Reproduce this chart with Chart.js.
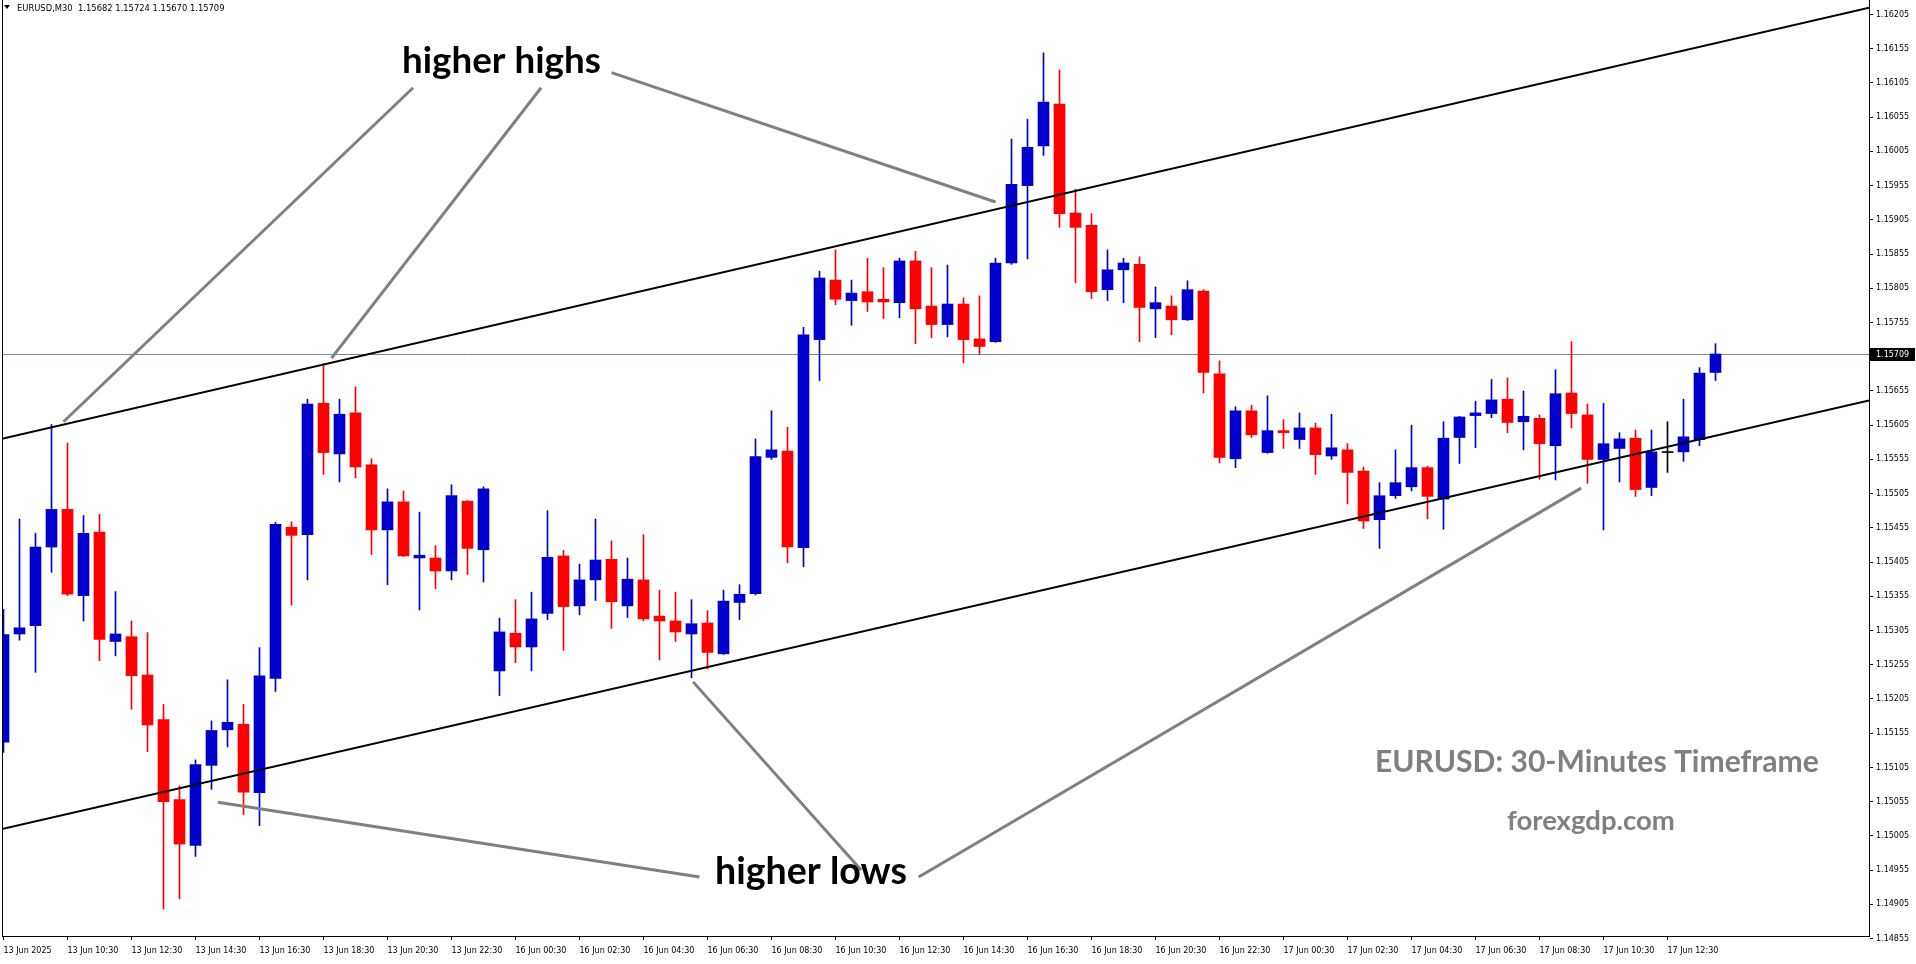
<!DOCTYPE html>
<html>
<head>
<meta charset="utf-8">
<title>EURUSD M30</title>
<script src="https://cdn.jsdelivr.net/npm/chart.js@4.4.1/dist/chart.umd.min.js"></script>
<style>
  html, body { margin: 0; padding: 0; background: #fff; }
  canvas { display: block; }
</style>
</head>
<body>
<canvas id="chart" width="1916" height="964"></canvas>
<script>
// EURUSD M30 bars, 13 Jun 08:30 -> 17 Jun 14:00 (one value per bar)
const opens = [
  1.15142, 1.15300, 1.15312, 1.15427, 1.15482, 1.15356, 1.15449, 1.15289, 1.15296, 1.15240,
  1.15175, 1.15058, 1.14991, 1.15108, 1.15160, 1.15168, 1.15068, 1.15235, 1.15456, 1.15445,
  1.15637, 1.15563, 1.15623, 1.15547, 1.15452, 1.15493, 1.15411, 1.15411, 1.15392, 1.15494,
  1.15423, 1.15246, 1.15301, 1.15281, 1.15330, 1.15414, 1.15341, 1.15379, 1.15409, 1.15341,
  1.15379, 1.15326, 1.15319, 1.15300, 1.15316, 1.15271, 1.15346, 1.15359, 1.15558, 1.15567,
  1.15426, 1.15730, 1.15817, 1.15787, 1.15800, 1.15789, 1.15784, 1.15845, 1.15779, 1.15752,
  1.15782, 1.15731, 1.15727, 1.15842, 1.15955, 1.16013, 1.16074, 1.15915, 1.15897, 1.15803,
  1.15832, 1.15840, 1.15775, 1.15779, 1.15759, 1.15801, 1.15680, 1.15556, 1.15626, 1.15565,
  1.15597, 1.15584, 1.15601, 1.15560, 1.15569, 1.15538, 1.15467, 1.15502, 1.15515, 1.15543,
  1.15497, 1.15587, 1.15619, 1.15622, 1.15643, 1.15610, 1.15615, 1.15575, 1.15652, 1.15620,
  1.15555, 1.15571, 1.15586, 1.15514, 1.15565, 1.15566, 1.15584, 1.15682
];
const highs = [
  1.15336, 1.15468, 1.15447, 1.15606, 1.15579, 1.15473, 1.15475, 1.15362, 1.15319, 1.15302,
  1.15197, 1.15078, 1.15116, 1.15173, 1.15233, 1.15197, 1.15280, 1.15463, 1.15464, 1.15643,
  1.15695, 1.15643, 1.15661, 1.15556, 1.15512, 1.15509, 1.15478, 1.15429, 1.15518, 1.15495,
  1.15515, 1.15323, 1.15350, 1.15361, 1.15480, 1.15422, 1.15402, 1.15468, 1.15436, 1.15411,
  1.15445, 1.15364, 1.15361, 1.15350, 1.15334, 1.15364, 1.15372, 1.15585, 1.15626, 1.15602,
  1.15748, 1.15830, 1.15861, 1.15817, 1.15849, 1.15835, 1.15849, 1.15859, 1.15835, 1.15839,
  1.15791, 1.15794, 1.15849, 1.16023, 1.16052, 1.16149, 1.16124, 1.15950, 1.15914, 1.15861,
  1.15849, 1.15851, 1.15807, 1.15794, 1.15816, 1.15803, 1.15699, 1.15632, 1.15634, 1.15648,
  1.15613, 1.15623, 1.15608, 1.15621, 1.15578, 1.15544, 1.15521, 1.15569, 1.15605, 1.15545,
  1.15610, 1.15618, 1.15640, 1.15672, 1.15674, 1.15655, 1.15620, 1.15686, 1.15727, 1.15636,
  1.15637, 1.15594, 1.15598, 1.15598, 1.15610, 1.15643, 1.15689, 1.15724
];
const lows = [
  1.15127, 1.15291, 1.15244, 1.15390, 1.15356, 1.15319, 1.15261, 1.15268, 1.15190, 1.15128,
  1.14898, 1.14913, 1.14975, 1.15073, 1.15135, 1.15036, 1.15020, 1.15216, 1.15342, 1.15379,
  1.15533, 1.15522, 1.15528, 1.15416, 1.15372, 1.15413, 1.15335, 1.15366, 1.15379, 1.15387,
  1.15376, 1.15210, 1.15258, 1.15246, 1.15321, 1.15276, 1.15328, 1.15349, 1.15308, 1.15324,
  1.15319, 1.15262, 1.15289, 1.15236, 1.15249, 1.15270, 1.15321, 1.15357, 1.15555, 1.15404,
  1.15398, 1.15670, 1.15781, 1.15751, 1.15771, 1.15761, 1.15762, 1.15724, 1.15733, 1.15734,
  1.15696, 1.15709, 1.15726, 1.15840, 1.15848, 1.15999, 1.15894, 1.15813, 1.15790, 1.15787,
  1.15784, 1.15727, 1.15733, 1.15737, 1.15758, 1.15652, 1.15550, 1.15543, 1.15587, 1.15564,
  1.15571, 1.15571, 1.15533, 1.15555, 1.15490, 1.15454, 1.15425, 1.15498, 1.15509, 1.15468,
  1.15453, 1.15549, 1.15572, 1.15616, 1.15594, 1.15569, 1.15526, 1.15525, 1.15601, 1.15520,
  1.15452, 1.15522, 1.15501, 1.15502, 1.15536, 1.15552, 1.15575, 1.15670
];
const closes = [
  1.15299, 1.15309, 1.15427, 1.15482, 1.15358, 1.15447, 1.15292, 1.15300, 1.15239, 1.15167,
  1.15055, 1.14993, 1.15109, 1.15159, 1.15171, 1.15069, 1.15239, 1.15460, 1.15444, 1.15636,
  1.15565, 1.15621, 1.15544, 1.15452, 1.15493, 1.15414, 1.15415, 1.15392, 1.15502, 1.15425,
  1.15512, 1.15303, 1.15281, 1.15322, 1.15412, 1.15340, 1.15379, 1.15408, 1.15347, 1.15380,
  1.15322, 1.15319, 1.15303, 1.15315, 1.15273, 1.15348, 1.15358, 1.15559, 1.15569, 1.15427,
  1.15737, 1.15820, 1.15789, 1.15798, 1.15785, 1.15785, 1.15845, 1.15775, 1.15752, 1.15782,
  1.15730, 1.15720, 1.15842, 1.15957, 1.16011, 1.16077, 1.15914, 1.15894, 1.15800, 1.15832,
  1.15842, 1.15777, 1.15784, 1.15759, 1.15803, 1.15682, 1.15558, 1.15626, 1.15591, 1.15597,
  1.15594, 1.15601, 1.15562, 1.15572, 1.15536, 1.15465, 1.15502, 1.15521, 1.15543, 1.15501,
  1.15586, 1.15617, 1.15623, 1.15642, 1.15609, 1.15618, 1.15578, 1.15651, 1.15622, 1.15555,
  1.15578, 1.15585, 1.15511, 1.15566, 1.15565, 1.15588, 1.15681, 1.15709
];

// one label every 4 bars, first one on bar 0
const timeLabels = [
  '13 Jun 2025', '13 Jun 10:30', '13 Jun 12:30', '13 Jun 14:30', '13 Jun 16:30', '13 Jun 18:30',
  '13 Jun 20:30', '13 Jun 22:30', '16 Jun 00:30', '16 Jun 02:30', '16 Jun 04:30', '16 Jun 06:30',
  '16 Jun 08:30', '16 Jun 10:30', '16 Jun 12:30', '16 Jun 14:30', '16 Jun 16:30', '16 Jun 18:30',
  '16 Jun 20:30', '16 Jun 22:30', '17 Jun 00:30', '17 Jun 02:30', '17 Jun 04:30', '17 Jun 06:30',
  '17 Jun 08:30', '17 Jun 10:30', '17 Jun 12:30'
];
const priceTicks = [
  1.14855, 1.14905, 1.14955, 1.15005, 1.15055, 1.15105, 1.15155, 1.15205, 1.15255, 1.15305,
  1.15355, 1.15405, 1.15455, 1.15505, 1.15555, 1.15605, 1.15655, 1.15705, 1.15755, 1.15805,
  1.15855, 1.15905, 1.15955, 1.16005, 1.16055, 1.16105, 1.16155, 1.16205
];
const lastPrice = 1.15709;
const headerText = 'EURUSD,M30  1.15682 1.15724 1.15670 1.15709';

// drawn lines, as [bar index, price] pairs
const channelLines = [
  [[-0.1, 1.15585], [116.6, 1.16215]],
  [[-0.1, 1.15015], [116.6, 1.15641]]
];
const pointerLines = [
  [[25.6, 1.16098], [3.75, 1.15610]],
  [[33.6, 1.16098], [20.5, 1.15703]],
  [[38.0, 1.16120], [62.0, 1.15931]],
  [[13.4, 1.15054], [43.5, 1.14945]],
  [[43.1, 1.15230], [53.6, 1.14955]],
  [[57.2, 1.14945], [98.6, 1.15513]]
];

const bullColor = '#0000CD';
const bearColor = '#FF0000';
const dojiColor = '#000000';
const axisFont = { family: 'DejaVu Sans', size: 8 };

// axis ranges (the reference shows ~16px per bar, ~68450px per 1.0 price)
const xMin = -0.09375, xMax = 116.59375;
const yMin = 1.1485874, yMax = 1.1622471;

const idx = opens.map((_, i) => i);
const candleColor = i => closes[i] > opens[i] ? bullColor : (closes[i] < opens[i] ? bearColor : dojiColor);

function fitText(ctx, text, left, baseline, width, weight, family, color) {
  ctx.font = `${weight} 100px "${family}"`;
  const size = 100 * width / ctx.measureText(text).width;
  ctx.font = `${weight} ${size}px "${family}"`;
  ctx.fillStyle = color;
  ctx.textAlign = 'left';
  ctx.textBaseline = 'alphabetic';
  ctx.fillText(text, left, baseline);
}

const overlay = {
  id: 'overlay',
  beforeDatasetsDraw(chart) {
    const { ctx, chartArea, scales } = chart;
    const y = Math.round(scales.y.getPixelForValue(lastPrice)) + 0.5;
    ctx.save();
    ctx.strokeStyle = '#778899';
    ctx.lineWidth = 1;
    ctx.beginPath();
    ctx.moveTo(chartArea.left, y);
    ctx.lineTo(chartArea.right, y);
    ctx.stroke();
    ctx.restore();
  },
  afterDatasetsDraw(chart) {
    const { ctx, chartArea, scales } = chart;
    const px = p => [scales.x.getPixelForValue(p[0]), scales.y.getPixelForValue(p[1])];
    ctx.save();
    ctx.beginPath();
    ctx.rect(chartArea.left, chartArea.top - 1, chartArea.right - chartArea.left, chartArea.bottom - chartArea.top + 1);
    ctx.clip();
    ctx.lineCap = 'butt';

    ctx.strokeStyle = '#000';
    ctx.lineWidth = 2;
    for (const [a, b] of channelLines) {
      ctx.beginPath();
      ctx.moveTo(...px(a));
      ctx.lineTo(...px(b));
      ctx.stroke();
    }

    ctx.strokeStyle = '#808080';
    ctx.lineWidth = 3;
    for (const [a, b] of pointerLines) {
      ctx.beginPath();
      ctx.moveTo(...px(a));
      ctx.lineTo(...px(b));
      ctx.stroke();
    }

    fitText(ctx, 'higher highs', 402, 73, 199, 'bold', 'Lato', '#000');
    fitText(ctx, 'higher lows', 715, 884, 192, 'bold', 'Lato', '#000');
    fitText(ctx, 'EURUSD: 30-Minutes Timeframe', 1375, 772, 444, 'bold', 'Lato', '#808080');
    fitText(ctx, 'forexgdp.com', 1507, 830, 168, 'bold', 'Lato', '#808080');
    ctx.restore();
  },
  afterDraw(chart) {
    const { ctx, chartArea, scales } = chart;
    ctx.save();
    // left frame
    ctx.fillStyle = '#000';
    ctx.fillRect(chartArea.left, 0, 1, chartArea.bottom);
    ctx.fillRect(chartArea.right, 0, 1, chartArea.top);

    // header
    ctx.beginPath();
    ctx.moveTo(4, 5);
    ctx.lineTo(10, 5);
    ctx.lineTo(7, 9);
    ctx.closePath();
    ctx.fill();
    fitText(ctx, headerText, 17, 11, 208, 'normal', 'DejaVu Sans', '#000');

    // last price tag
    const y = Math.round(scales.y.getPixelForValue(lastPrice));
    ctx.fillStyle = '#000';
    ctx.fillRect(chartArea.right + 1, y - 6, 45, 13);
    ctx.fillStyle = '#fff';
    ctx.font = '8px "DejaVu Sans"';
    ctx.textAlign = 'left';
    ctx.textBaseline = 'middle';
    ctx.fillText(lastPrice.toFixed(5), chartArea.right + 7, y + 0.5);
    ctx.restore();
  }
};

new Chart(document.getElementById('chart'), {
  type: 'bar',
  data: {
    datasets: [
      {
        label: 'body',
        data: idx.map(i => ({ x: i, y: [Math.min(opens[i], closes[i]), Math.max(opens[i], closes[i])] })),
        backgroundColor: idx.map(candleColor),
        barThickness: 11,
        minBarLength: 1,
        grouped: false,
        borderWidth: 0
      },
      {
        label: 'wick',
        data: idx.map(i => ({ x: i, y: [lows[i], highs[i]] })),
        backgroundColor: idx.map(candleColor),
        barThickness: 1,
        grouped: false,
        borderWidth: 0
      }
    ]
  },
  options: {
    responsive: false,
    animation: false,
    events: [],
    layout: { padding: { left: 2, top: 1, right: 0, bottom: 0 } },
    plugins: {
      legend: { display: false },
      tooltip: { enabled: false }
    },
    scales: {
      x: {
        type: 'linear',
        min: xMin,
        max: xMax,
        offset: false,
        afterBuildTicks: s => { s.ticks = timeLabels.map((_, i) => ({ value: i * 4 })); },
        afterFit: s => { s.height = 28; s.paddingLeft = 0; s.paddingRight = 0; },
        grid: { offset: false, drawOnChartArea: false, drawTicks: true, tickLength: 4, color: '#000' },
        border: { display: true, color: '#000' },
        ticks: {
          callback: (v, i) => timeLabels[i],
          align: 'start',
          autoSkip: false,
          maxRotation: 0,
          minRotation: 0,
          padding: 6,
          color: '#000',
          font: axisFont
        }
      },
      y: {
        position: 'right',
        min: yMin,
        max: yMax,
        afterBuildTicks: s => { s.ticks = priceTicks.map(v => ({ value: v })); },
        afterFit: s => { s.width = 47; s.paddingTop = 0; s.paddingBottom = 0; },
        grid: { drawOnChartArea: false, drawTicks: true, tickLength: 4, color: '#000' },
        border: { display: true, color: '#000' },
        ticks: {
          callback: v => v.toFixed(5),
          autoSkip: false,
          padding: 3,
          color: '#000',
          font: axisFont
        }
      }
    }
  },
  plugins: [overlay]
});
</script>
</body>
</html>
